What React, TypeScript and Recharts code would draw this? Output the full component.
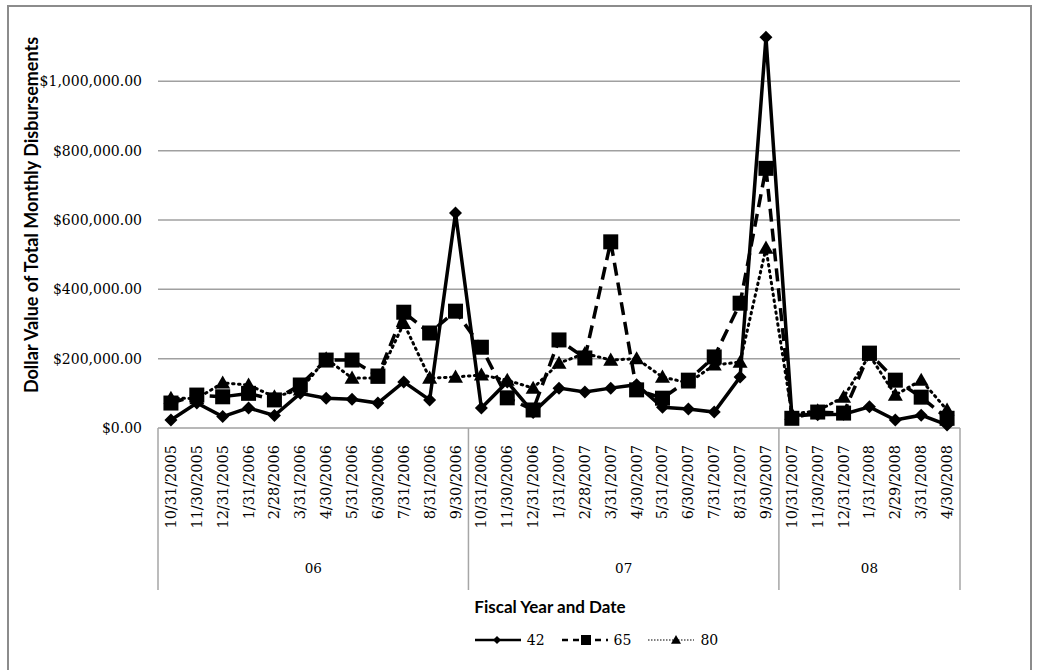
import React from 'react';
import { LineChart, Line, XAxis, YAxis, ReferenceLine, Legend } from 'recharts';

const dates = [
  '10/31/2005', '11/30/2005', '12/31/2005', '1/31/2006', '2/28/2006', '3/31/2006',
  '4/30/2006', '5/31/2006', '6/30/2006', '7/31/2006', '8/31/2006', '9/30/2006',
  '10/31/2006', '11/30/2006', '12/31/2006', '1/31/2007', '2/28/2007', '3/31/2007',
  '4/30/2007', '5/31/2007', '6/30/2007', '7/31/2007', '8/31/2007', '9/30/2007',
  '10/31/2007', '11/30/2007', '12/31/2007', '1/31/2008', '2/29/2008', '3/31/2008',
  '4/30/2008',
];
const fiscalYears = [
  '06', '06', '06', '06', '06', '06', '06', '06', '06', '06', '06', '06',
  '07', '07', '07', '07', '07', '07', '07', '07', '07', '07', '07', '07',
  '08', '08', '08', '08', '08', '08', '08',
];
const s42 = [
  23000, 72000, 33000, 58000, 36000, 100000, 86000, 83000, 72000, 133000, 81000, 620000,
  58000, 133000, 45000, 115000, 104000, 115000, 125000, 60000, 55000, 46000, 147000, 1127000,
  37000, 38000, 40000, 61000, 23000, 37000, 9000,
];
const s65 = [
  72000, 95000, 90000, 100000, 81000, 124000, 196000, 196000, 150000, 334000, 274000, 337000,
  233000, 87000, 52000, 254000, 202000, 537000, 110000, 86000, 138000, 205000, 360000, 749000,
  28000, 46000, 43000, 216000, 138000, 89000, 28000,
];
const s80 = [
  86000, 85000, 130000, 124000, 90000, 110000, 200000, 144000, 144000, 302000, 144000, 147000,
  153000, 138000, 115000, 187000, 215000, 196000, 200000, 147000, 130000, 182000, 190000, 519000,
  40000, 50000, 89000, 210000, 95000, 138000, 52000,
];
const yTicks = [0, 200000, 400000, 600000, 800000, 1000000];

const data = dates.map((d, i) => ({ date: d, fy: fiscalYears[i], s42: s42[i], s65: s65[i], s80: s80[i] }));

const W = 1037;
const H = 670;
const MARGIN = { top: 12, right: 77, left: 0, bottom: 20 };
const Y_AXIS_W = 158;
const DATE_AXIS_H = 110;
const FY_AXIS_H = 92;
const STEP = (W - MARGIN.left - MARGIN.right - Y_AXIS_W) / dates.length;
const PAD = { left: STEP / 2, right: STEP / 2 };
const SERIF = '"DejaVu Serif", serif';
const SANS = 'Lato, "Open Sans", sans-serif';
const BOX = '#a6a6a6';

const money = (v: number) =>
  '$' + v.toLocaleString('en-US', { minimumFractionDigits: 2, maximumFractionDigits: 2 });

const Diamond = ({ cx, cy, size = 6.5 }: any) =>
  cx == null ? null : (
    <path d={`M${cx},${cy - size}L${cx + size},${cy}L${cx},${cy + size}L${cx - size},${cy}Z`} fill="#000" />
  );
const Square = ({ cx, cy, size = 7.5 }: any) =>
  cx == null ? null : <rect x={cx - size} y={cy - size} width={size * 2} height={size * 2} fill="#000" />;
const Triangle = ({ cx, cy, size = 7.5 }: any) =>
  cx == null ? null : (
    <path d={`M${cx},${cy - size}L${cx + size},${cy + size * 0.75}L${cx - size},${cy + size * 0.75}Z`} fill="#000" />
  );

const DateTick = ({ x, y, payload }: any) => (
  <text
    x={x + 5}
    y={y + 17}
    transform={`rotate(-90 ${x + 5} ${y + 17})`}
    textAnchor="end"
    fontFamily={SERIF}
    fontSize={14.5}
    fill="#000"
  >
    {payload.value}
  </text>
);

// year group row: separators between fiscal years, label centred on each group
const FyTick = ({ x, y, payload }: any) => {
  const i = payload.index;
  const v = fiscalYears[i];
  const first = i === 0 || fiscalYears[i - 1] !== v;
  const last = i === fiscalYears.length - 1;
  const idx = fiscalYears.map((f, k) => (f === v ? k : -1)).filter((k) => k >= 0);
  const mid = (idx[0] + idx[idx.length - 1]) / 2;
  const top = y - DATE_AXIS_H;
  const bottom = y + 52;
  const showLabel = Math.abs(i - mid) < 0.6 && i <= mid;
  const lx = x + (mid - i) * STEP;
  return (
    <g>
      {first && <line x1={x - STEP / 2} x2={x - STEP / 2} y1={top} y2={bottom} stroke={BOX} strokeWidth={1.5} />}
      {last && <line x1={x + STEP / 2} x2={x + STEP / 2} y1={top} y2={bottom} stroke={BOX} strokeWidth={1.5} />}
      {showLabel && (
        <text x={lx} y={y + 35} textAnchor="middle" fontFamily={SERIF} fontSize={13.5} fill="#000">
          {v}
        </text>
      )}
    </g>
  );
};

const LegendContent = () => {
  const items = [
    { name: '42', dash: undefined, w: 2.5, mark: <Diamond cx={22} cy={8} size={4} /> },
    { name: '65', dash: '6 5', w: 2.5, mark: <Square cx={24} cy={8} size={5} /> },
    { name: '80', dash: '1.5 1.5', w: 1.2, mark: <Triangle cx={28} cy={8} size={5} /> },
  ];
  return (
    <div style={{ display: 'flex', justifyContent: 'center', height: 20, marginLeft: 250 }}>
      {items.map((it) => (
        <div key={it.name} style={{ display: 'flex', alignItems: 'center', marginRight: 17 }}>
          <svg width={46} height={16}>
            <line x1={0} x2={46} y1={8} y2={8} stroke="#000" strokeWidth={it.w} strokeDasharray={it.dash} />
            {it.mark}
          </svg>
          <span style={{ fontFamily: SERIF, fontSize: 14, marginLeft: 6 }}>{it.name}</span>
        </div>
      ))}
    </div>
  );
};

export default function App() {
  return (
    <div style={{ position: 'absolute', left: 0, top: 0, width: W, height: H, background: '#fff', overflow: 'hidden' }}>
      <div
        style={{
          position: 'absolute',
          left: 7,
          top: 5,
          width: 1021,
          height: 690,
          border: '2px solid #8c8c8c',
        }}
      />
      <div style={{ position: 'absolute', left: 0, top: 0 }}>
        <LineChart width={W} height={H} data={data} margin={MARGIN}>
          {yTicks.map((t) => (
            <ReferenceLine key={t} y={t} stroke="#a0a0a0" strokeWidth={1.5} />
          ))}
          <XAxis
            dataKey="date"
            padding={PAD}
            interval={0}
            height={DATE_AXIS_H}
            axisLine={false}
            tickLine={false}
            tickSize={0}
            tickMargin={0}
            tick={<DateTick />}
          />
          <XAxis
            xAxisId="fy"
            dataKey="fy"
            padding={PAD}
            interval={0}
            height={FY_AXIS_H}
            axisLine={false}
            tickLine={false}
            tickSize={0}
            tickMargin={0}
            tick={<FyTick />}
            label={{
              content: () => (
                <text x={550} y={613} textAnchor="middle" fontFamily={SANS} fontWeight={700} fontSize={17} fill="#000">
                  Fiscal Year and Date
                </text>
              ),
            }}
          />
          <YAxis
            width={Y_AXIS_W}
            domain={[0, 1200000]}
            ticks={yTicks}
            tickFormatter={money}
            axisLine={false}
            tickLine={false}
            tickMargin={10}
            tick={{ fontFamily: SERIF, fontSize: 14, fill: '#000' }}
            label={{
              content: () => (
                <text
                  x={38}
                  y={215}
                  transform="rotate(-90 38 215)"
                  textAnchor="middle"
                  fontFamily={SANS}
                  fontWeight={700}
                  fontSize={18}
                  fill="#000"
                >
                  Dollar Value of Total Monthly Disbursements
                </text>
              ),
            }}
          />
          <Legend verticalAlign="bottom" content={<LegendContent />} />
          <Line
            dataKey="s80"
            name="80"
            stroke="#000"
            strokeWidth={3}
            strokeDasharray="1.5 4.5"
            strokeLinecap="round"
            dot={<Triangle />}
            isAnimationActive={false}
          />
          <Line
            dataKey="s65"
            name="65"
            stroke="#000"
            strokeWidth={3.5}
            strokeDasharray="13 7"
            dot={<Square />}
            isAnimationActive={false}
          />
          <Line
            dataKey="s42"
            name="42"
            stroke="#000"
            strokeWidth={3.5}
            dot={<Diamond />}
            isAnimationActive={false}
          />
        </LineChart>
      </div>
    </div>
  );
}
